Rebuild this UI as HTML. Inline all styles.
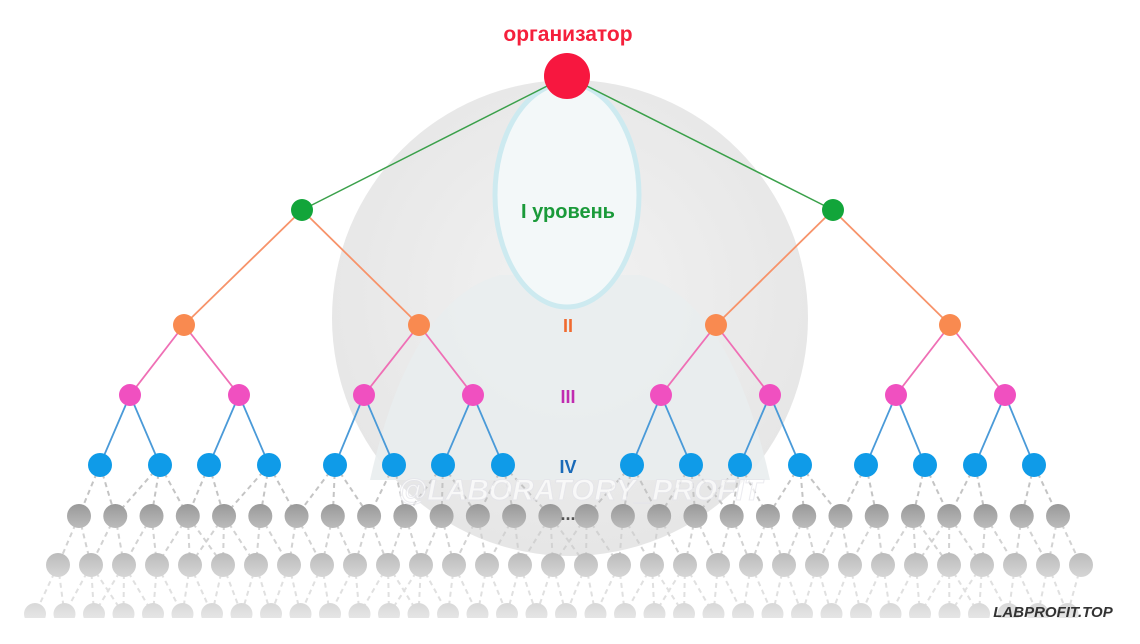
<!DOCTYPE html>
<html><head><meta charset="utf-8"><style>
html,body{margin:0;padding:0;background:#fff;width:1140px;height:644px;overflow:hidden}
svg{display:block}
</style></head><body>
<svg id="s" width="1140" height="644" xmlns="http://www.w3.org/2000/svg">
<defs>
<radialGradient id="bg" cx="50%" cy="45%" r="55%"><stop offset="0" stop-color="#f2f2f2"/><stop offset="1" stop-color="#e6e6e6"/></radialGradient>
<linearGradient id="g1" x1="0" y1="0" x2="0" y2="1"><stop offset="0" stop-color="#999"/><stop offset="1" stop-color="#bbb"/></linearGradient>
<linearGradient id="g2" x1="0" y1="0" x2="0" y2="1"><stop offset="0" stop-color="#bbb"/><stop offset="1" stop-color="#d6d6d6"/></linearGradient>
<linearGradient id="g3" x1="0" y1="0" x2="0" y2="1"><stop offset="0" stop-color="#d8d8d8"/><stop offset="1" stop-color="#ececec"/></linearGradient>
</defs>
<circle cx="570" cy="318" r="238" fill="url(#bg)"/>
<path d="M370 480 Q410 300 500 275 L640 275 Q730 300 770 480 Z" fill="#e9edee" opacity="0.9"/>
<ellipse cx="567" cy="195" rx="72" ry="112" fill="#f3f8f9" stroke="#cdeaf0" stroke-width="5"/>
<g id="lines"></g>
<g id="nodes"></g>
<rect x="0" y="618" width="1140" height="26" fill="#fff"/>
<text x="580" y="500" font-family="Liberation Sans,sans-serif" font-size="30" font-weight="bold" font-style="italic" fill="#fff" stroke="#e4e4ea" stroke-width="1" text-anchor="middle" opacity="0.7">@LABORATORY_PROFIT</text>
<g font-family="Liberation Sans,sans-serif" font-weight="bold" text-anchor="middle">
<text x="568" y="41" font-size="21" fill="#f5203c">организатор</text>
<text x="568" y="218" font-size="20" fill="#1a9a3a">I уровень</text>
<text x="568" y="332" font-size="18" fill="#f06a30">II</text>
<text x="568" y="403" font-size="18" fill="#c02bb0">III</text>
<text x="568" y="473" font-size="18" fill="#1a6ab8">IV</text>
<text x="568" y="520" font-size="18" fill="#555">...</text>
<text x="1053" y="617" font-size="15" font-style="italic" fill="#333">LABPROFIT.TOP</text>
</g>
</svg>
<script>
var NS="http://www.w3.org/2000/svg",L=document.getElementById('lines'),N=document.getElementById('nodes');
function ln(a,b,c,w,d){var e=document.createElementNS(NS,'line');e.setAttribute('x1',a[0]);e.setAttribute('y1',a[1]);e.setAttribute('x2',b[0]);e.setAttribute('y2',b[1]);e.setAttribute('stroke',c);e.setAttribute('stroke-width',w);if(d)e.setAttribute('stroke-dasharray',d);L.appendChild(e);}
function ci(p,r,f){var e=document.createElementNS(NS,'circle');e.setAttribute('cx',p[0]);e.setAttribute('cy',p[1]);e.setAttribute('r',r);e.setAttribute('fill',f);N.appendChild(e);}
var root=[567,76];
var l1=[[302,210],[833,210]];
var l2=[184,419,716,950].map(x=>[x,325]);
var l3=[130,239,364,473,661,770,896,1005].map(x=>[x,395]);
var l4=[100,160,209,269,335,394,443,503,632,691,740,800,866,925,975,1034].map(x=>[x,465]);
var g1=[],g2=[],g3=[];
for(var i=0;i<28;i++)g1.push([79+i*36.26,516]);
for(var i=0;i<32;i++)g2.push([58+i*33,565]);
for(var i=0;i<36;i++)g3.push([35+i*29.5,614]);
l1.forEach(p=>ln(root,p,'#3aa04a',1.5));
l2.forEach((p,i)=>ln(l1[i>>1],p,'#f7936a',1.8));
l3.forEach((p,i)=>ln(l2[i>>1],p,'#ef6fb5',1.8));
l4.forEach((p,i)=>ln(l3[i>>1],p,'#4a9ad8',1.8));
function conn(up,dn,c){dn.forEach(p=>{var s=up.slice().sort((a,b)=>Math.abs(a[0]-p[0])-Math.abs(b[0]-p[0]));ln(s[0],p,c,2,'5,4');if(s[1]&&Math.abs(s[1][0]-p[0])<45)ln(s[1],p,c,2,'5,4');});}
conn(l4,g1,'#c4c4c4');conn(g1,g2,'#d2d2d2');conn(g2,g3,'#e0e0e0');
ci(root,23,'#f7173f');
l1.forEach(p=>ci(p,11,'#12a53a'));
l2.forEach(p=>ci(p,11,'#f98a50'));
l3.forEach(p=>ci(p,11,'#f050c0'));
l4.forEach(p=>ci(p,12,'#0f9be8'));
g1.forEach(p=>ci(p,12,'url(#g1)'));
g2.forEach(p=>ci(p,12,'url(#g2)'));
g3.forEach(p=>ci(p,11,'url(#g3)'));
</script>
</body></html>
